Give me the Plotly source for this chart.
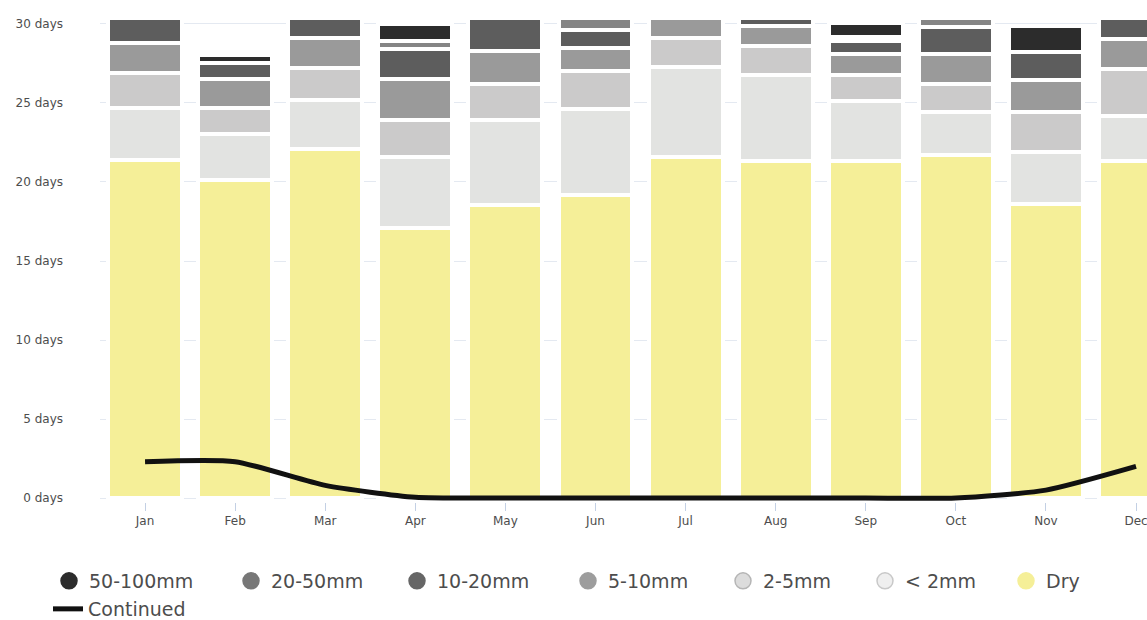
import plotly.graph_objects as go

# ---------------- data ----------------
months = ["Jan", "Feb", "Mar", "Apr", "May", "Jun", "Jul", "Aug", "Sep", "Oct", "Nov", "Dec"]
dry = [21.4, 20.1, 22.1, 17.1, 18.55, 19.2, 21.55, 21.3, 21.35, 21.7, 18.6, 21.3]
lt2mm = [3.3, 2.95, 3.1, 4.45, 5.35, 5.4, 5.75, 5.5, 3.75, 2.7, 3.3, 2.9]
mm2_5 = [2.2, 1.65, 2.0, 2.35, 2.3, 2.4, 1.8, 1.8, 1.7, 1.8, 2.5, 2.95]
mm5_10 = [1.9, 1.8, 1.9, 2.6, 2.1, 1.5, 1.9, 1.3, 1.3, 1.9, 2.05, 1.9]
mm10_20 = [2.2, 1.05, 1.9, 1.9, 2.7, 1.1, 0, 1.1, 0.8, 1.7, 1.75, 1.95]
mm20_50 = [0, 0, 0, 0.5, 0, 0.9, 0, 0, 0.3, 1.2, 0, 0]
mm50_100 = [0, 0.5, 0, 1.1, 0, 0, 0, 0, 0.85, 0, 1.7, 0]
continued = [2.3, 2.3, 0.8, 0.05, 0, 0, 0, 0, 0, 0, 0.5, 2.0]
ytick_vals = [0, 5, 10, 15, 20, 25, 30]
ytick_text = ["0 days", "5 days", "10 days", "15 days", "20 days", "25 days", "30 days"]

# ---------------- layout geometry ----------------
W, H = 1147, 620
ML, MR, MT, MB = 100, 0, 20, 118
PW, PH = W - ML - MR, H - MT - MB


def px2x(px):
    return (px - ML) / PW


def py2y(py):
    return 1 - (py - MT) / PH


# stacking order bottom -> top
series = [
    ("Dry", dry, "#f5ef98"),
    ("< 2mm", lt2mm, "#e2e3e1"),
    ("2-5mm", mm2_5, "#cbcaca"),
    ("5-10mm", mm5_10, "#9a9a9a"),
    ("10-20mm", mm10_20, "#5d5d5d"),
    ("20-50mm", mm20_50, "#858585"),
    ("50-100mm", mm50_100, "#2c2c2c"),
]

fig = go.Figure()
for name, vals, col in series:
    fig.add_trace(go.Bar(
        x=months, y=vals, name=name, showlegend=False,
        marker=dict(color=col, line=dict(color="white", width=4)),
        width=0.82,
    ))

fig.add_trace(go.Scatter(
    x=months, y=continued, mode="lines", name="Continued",
    line=dict(color="#111111", width=5, shape="spline", smoothing=0.6),
    legend="legend8",
))

# legend entries (circle markers), each in its own legend for exact placement
legend_items = [
    ("50-100mm", "#2c2c2c", "#2c2c2c", 69),
    ("20-50mm", "#777777", "#777777", 251),
    ("10-20mm", "#666666", "#666666", 417),
    ("5-10mm", "#9d9d9d", "#9d9d9d", 588),
    ("2-5mm", "#dcdcdc", "#b5b5b5", 743),
    ("< 2mm", "#efefef", "#c8c8c8", 885),
    ("Dry", "#f5ef98", "#f5ef98", 1026),
]
leg_font = dict(family="DejaVu Sans", size=19, color="#4d4d4d")
legends = {}
for i, (name, col, lcol, cx) in enumerate(legend_items):
    key = "legend" if i == 0 else f"legend{i + 1}"
    fig.add_trace(go.Scatter(
        x=[None], y=[None], mode="markers", name=name,
        marker=dict(symbol="circle", size=16, color=col, line=dict(color=lcol, width=1.5)),
        legend=key,
    ))
    legends[key] = dict(x=px2x(cx - 20), y=py2y(581), xanchor="left", yanchor="middle",
                        orientation="h", font=leg_font, bgcolor="rgba(0,0,0,0)",
                        borderwidth=0)
legends["legend8"] = dict(x=px2x(68 - 20), y=py2y(609), xanchor="left", yanchor="middle",
                          orientation="h", font=leg_font, bgcolor="rgba(0,0,0,0)",
                          borderwidth=0)

fig.update_layout(
    width=W, height=H,
    margin=dict(l=ML, r=MR, t=MT, b=MB, autoexpand=False),
    barmode="stack",
    plot_bgcolor="white", paper_bgcolor="white",
    font=dict(family="DejaVu Sans", color="#555555"),
    xaxis=dict(
        type="category", range=[-0.5, 11.122],
        showgrid=False, zeroline=False, showline=False,
        ticks="outside", ticklen=8, tickwidth=1, tickcolor="#c3d0e4",
        tickfont=dict(size=12, color="#4d4d4d"),
    ),
    yaxis=dict(
        range=[-0.25, 30.25], tickmode="array", tickvals=ytick_vals, ticktext=ytick_text,
        showgrid=True, gridcolor="#e4e9f1", gridwidth=1, zeroline=False,
        showline=False, ticks="", ticklabelstandoff=36,
        tickfont=dict(size=12, color="#4d4d4d"),
    ),
    **legends,
)

fig.write_html("out.html")
